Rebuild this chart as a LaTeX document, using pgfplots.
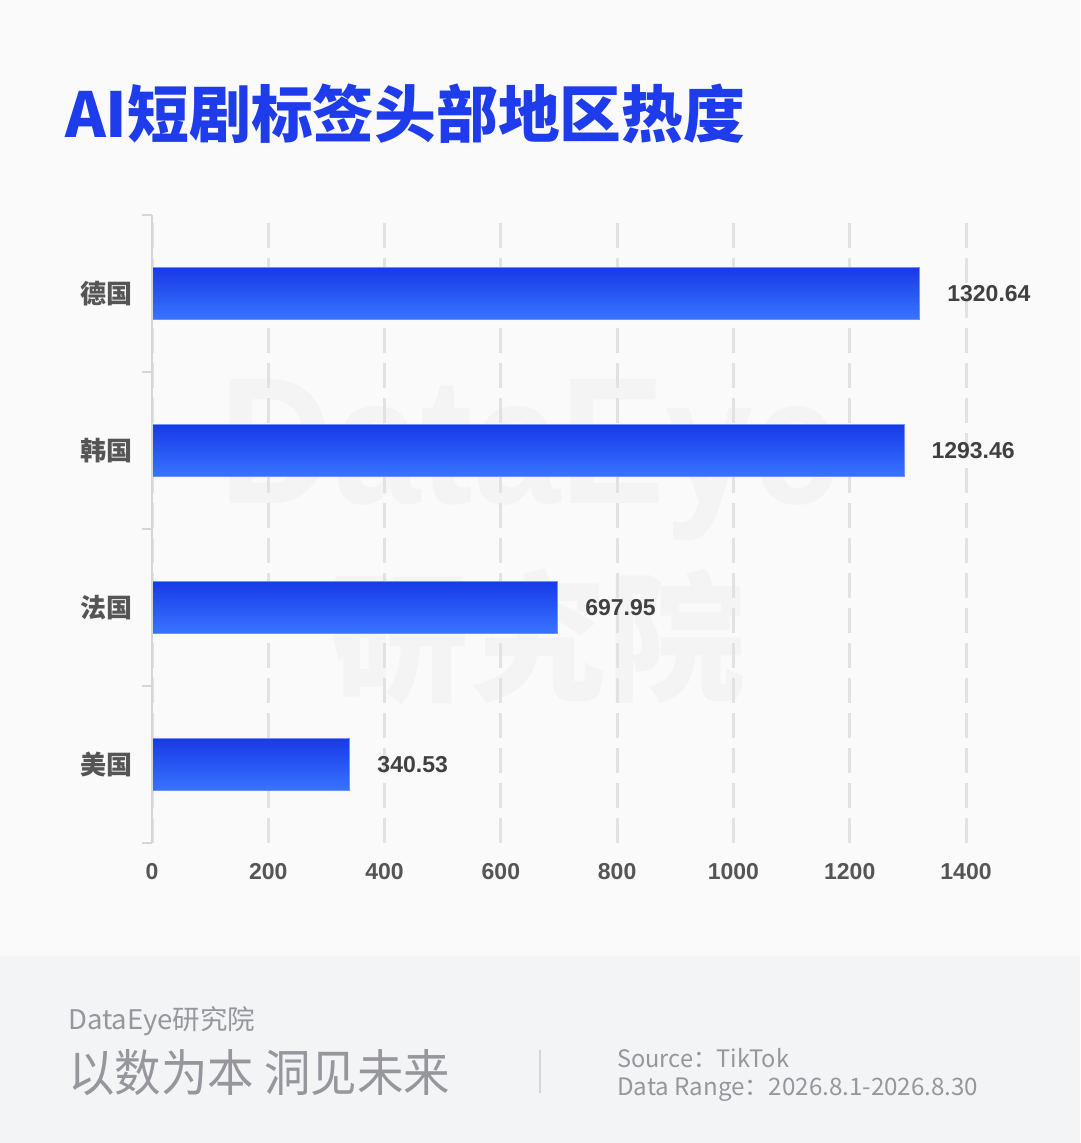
\documentclass[border=0pt]{standalone}
\usepackage{pgfplots}
\pgfplotsset{compat=1.18}
\usepackage{fontspec}
\usepackage{graphicx}
\setmainfont{Liberation Sans}
\newfontfamily\cjk{Noto Sans CJK SC}
\definecolor{bg}{RGB}{250,250,250}
\definecolor{footbg}{RGB}{243,244,246}
\definecolor{titleblue}{RGB}{30,60,235}
\definecolor{gridgray}{RGB}{226,226,226}
\definecolor{axisgray}{RGB}{214,214,214}
\definecolor{labgray}{RGB}{85,85,85}
\definecolor{valgray}{RGB}{64,64,64}
\definecolor{footgray}{RGB}{150,150,156}
\definecolor{wm}{RGB}{244,244,244}
\definecolor{bartop}{RGB}{24,58,232}
\definecolor{barbot}{RGB}{56,116,255}
\definecolor{baredge}{RGB}{110,145,255}
\pgfplotsset{mybar/.style={xbar, bar width=52pt, bar shift=0pt, draw=baredge, line width=1pt, top color=bartop, bottom color=barbot}}
\begin{document}
\begin{tikzpicture}[x=1pt,y=1pt]
\useasboundingbox (0,0) rectangle (1080,1143);
\fill[bg] (0,0) rectangle (1080,1143);
\fill[footbg] (0,0) rectangle (1080,187);
% watermark
\node[wm, inner sep=0, anchor=center] at (530,683) {\resizebox{620pt}{\height}{\fontsize{180}{180}\selectfont\bfseries DataEye}};
\node[wm, inner sep=0, anchor=center] at (538,506) {\resizebox{415pt}{\height}{\cjk\fontsize{140}{140}\selectfont\bfseries 研究院}};
% title
\node[titleblue, inner sep=0, anchor=base west] at (65,1005) {\resizebox{680pt}{\height}{\cjk\fontsize{62}{62}\selectfont\bfseries AI短剧标签头部地区热度}};
\begin{axis}[
  at={(152pt,300pt)}, anchor=south west,
  scale only axis, width=814pt, height=628pt,
  xmin=0, xmax=1400, ymin=-0.5, ymax=3.5,
  xtick={0,200,400,600,800,1000,1200,1400},
  ytick={0,1,2,3},
  yticklabels={美国,法国,韩国,德国},
  axis line style={draw=none},
  xtick style={draw=none},
  ytick style={draw=none},
  xmajorgrids,
  major grid style={draw=gridgray, line width=3pt, dash pattern=on 25pt off 10pt},
  /pgf/number format/assume math mode=true,
  /pgf/number format/1000 sep={},
  xticklabel style={anchor=center, inner sep=0pt, yshift=-29pt, font=\fontsize{23}{23}\selectfont\bfseries, text=labgray},
  yticklabel style={anchor=east, inner sep=0pt, xshift=-19pt, font=\cjk\fontsize{26}{26}\selectfont\bfseries, text=labgray},
  nodes near coords,
  point meta=explicit symbolic,
  nodes near coords style={anchor=west, inner sep=0pt, xshift=27pt, font=\fontsize{23}{23}\selectfont\bfseries, text=valgray},
  clip=false,
]
\addplot[mybar] coordinates {(340.53,0) [340.53]};
\addplot[mybar] coordinates {(697.95,1) [697.95]};
\addplot[mybar] coordinates {(1293.46,2) [1293.46]};
\addplot[mybar] coordinates {(1320.64,3) [1320.64]};
\draw[axisgray, line width=2pt] (axis cs:0,-0.5) -- (axis cs:0,3.5);
\pgfplotsinvokeforeach{-0.5,0.5,1.5,2.5,3.5}{
  \draw[axisgray, line width=2pt] (axis cs:0,#1) -- ++(-10pt,0pt);
}
\end{axis}
% footer
\node[footgray, inner sep=0, anchor=base west] at (68,113) {\resizebox{187pt}{\height}{\cjk\fontsize{27}{27}\selectfont DataEye研究院}};
\node[footgray, inner sep=0, anchor=base west] at (68,51) {\resizebox{382pt}{\height}{\cjk\fontsize{50}{50}\selectfont 以数为本 洞见未来}};
\draw[axisgray, line width=1.5pt] (540,50) -- (540,93);
\node[footgray, inner sep=0, anchor=base west] at (617,75) {\resizebox{172pt}{\height}{\cjk\fontsize{24}{24}\selectfont Source：TikTok}};
\node[footgray, inner sep=0, anchor=base west] at (617,47) {\resizebox{361pt}{\height}{\cjk\fontsize{24}{24}\selectfont Data Range：2026.8.1-2026.8.30}};
\end{tikzpicture}
\end{document}
